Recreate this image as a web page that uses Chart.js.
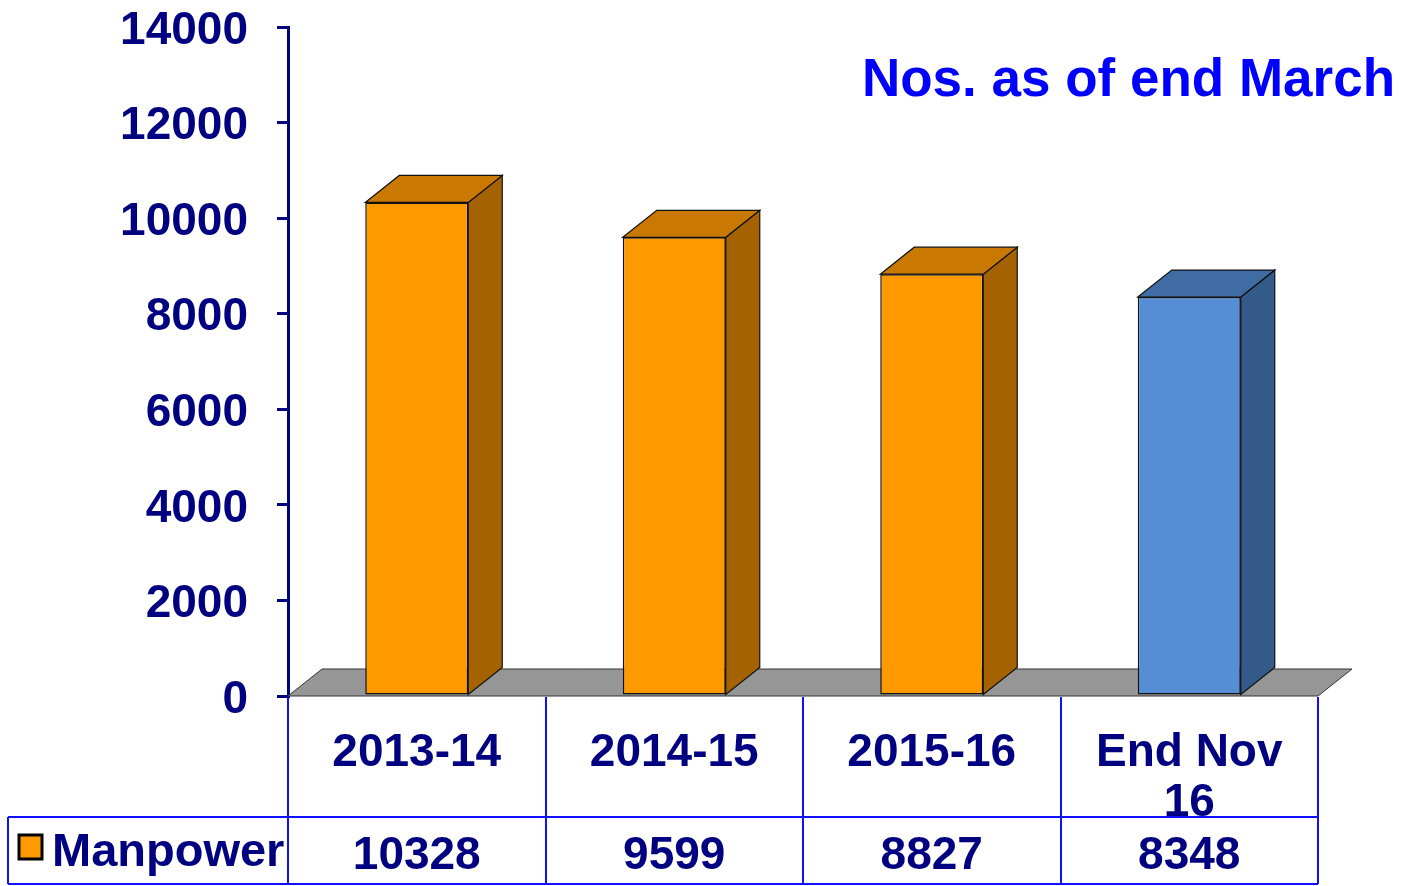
<!DOCTYPE html>
<html lang="en">
<head>
    <meta charset="UTF-8">
    <title>Manpower</title>
    <script src="https://cdn.jsdelivr.net/npm/chart.js"></script>
    <style>
        body {
            margin: 0;
            padding: 0;
            background: #fff;
        }
        #wrap {
            width: 1403px;
            height: 886px;
            position: relative;
        }
    </style>
</head>
<body>
    <div id="wrap">
        <canvas id="myChart"></canvas>
    </div>

    <script>
        // chart data
        const categories = [['2013-14'], ['2014-15'], ['2015-16'], ['End Nov', '16']];
        const manpower = [10328, 9599, 8827, 8348];
        const seriesName = 'Manpower';
        const chartTitle = 'Nos. as of end March';

        // bar faces: front / top / side
        const frontColors = ['#FF9900', '#FF9900', '#FF9900', '#558ED5'];
        const topColors = ['#C97800', '#C97800', '#C97800', '#3F6CA3'];
        const sideColors = ['#A46200', '#A46200', '#A46200', '#345A8A'];

        const NAVY = '#000080';
        const FONT = '"Liberation Sans", Arial, Helvetica, sans-serif';
        const DX = 34, DY = -27; // depth of the 3d look

        const bar3d = {
            id: 'bar3d',
            beforeDatasetsDraw(chart) {
                const c = chart.ctx;
                const a = chart.chartArea;
                // floor
                c.save();
                c.beginPath();
                c.moveTo(a.left, a.bottom);
                c.lineTo(a.right, a.bottom);
                c.lineTo(a.right + DX, a.bottom + DY);
                c.lineTo(a.left + DX, a.bottom + DY);
                c.closePath();
                c.fillStyle = '#969696';
                c.fill();
                c.strokeStyle = '#333';
                c.lineWidth = 1;
                c.stroke();

                // top and side faces
                chart.getDatasetMeta(0).data.forEach((bar, i) => {
                    const w = bar.width;
                    const l = bar.x - w / 2, r = bar.x + w / 2;
                    const t = bar.y, b = bar.base;
                    c.lineWidth = 1.2;
                    c.strokeStyle = '#111';

                    c.beginPath();
                    c.moveTo(r, t);
                    c.lineTo(r + DX, t + DY);
                    c.lineTo(r + DX, b + DY);
                    c.lineTo(r, b);
                    c.closePath();
                    c.fillStyle = sideColors[i];
                    c.fill();
                    c.stroke();

                    c.beginPath();
                    c.moveTo(l, t);
                    c.lineTo(l + DX, t + DY);
                    c.lineTo(r + DX, t + DY);
                    c.lineTo(r, t);
                    c.closePath();
                    c.fillStyle = topColors[i];
                    c.fill();
                    c.stroke();
                });
                c.restore();
            },
            afterDraw(chart) {
                const c = chart.ctx;
                const a = chart.chartArea;
                const xs = chart.scales.x;
                const half = (a.right - a.left) / categories.length / 2;
                const rowTop = 817, rowBottom = 884, legendLeft = 8;

                c.save();
                // title
                c.font = 'bold 53px ' + FONT;
                c.fillStyle = '#0000FF';
                c.textAlign = 'right';
                c.textBaseline = 'alphabetic';
                c.fillText(chartTitle, 1395, 96);

                // data table grid
                c.strokeStyle = '#1010FF';
                c.lineWidth = 2;
                c.beginPath();
                for (let i = 0; i <= categories.length; i++) {
                    const x = Math.round(a.left + i * half * 2);
                    c.moveTo(x, a.bottom + 1);
                    c.lineTo(x, rowBottom);
                }
                c.moveTo(legendLeft, rowTop);
                c.lineTo(legendLeft, rowBottom);
                c.moveTo(legendLeft, rowTop);
                c.lineTo(a.right, rowTop);
                c.moveTo(legendLeft, rowBottom);
                c.lineTo(a.right, rowBottom);
                c.stroke();

                // category labels and values
                c.font = 'bold 46px ' + FONT;
                c.fillStyle = NAVY;
                c.textAlign = 'center';
                c.textBaseline = 'middle';
                categories.forEach((lines, i) => {
                    const cx = xs.getPixelForValue(i);
                    lines.forEach((txt, j) => c.fillText(txt, cx, 753 + j * 50));
                    c.fillText(String(manpower[i]), cx, 856);
                });

                // legend key + series name
                c.fillStyle = frontColors[0];
                c.fillRect(19, 835, 23, 24);
                c.strokeStyle = '#000';
                c.lineWidth = 3;
                c.strokeRect(19, 835, 23, 24);
                c.fillStyle = NAVY;
                c.textAlign = 'left';
                c.font = 'bold 47px ' + FONT;
                c.fillText(seriesName, 52, 853);
                c.restore();
            }
        };

        const ctx = document.getElementById('myChart').getContext('2d');
        new Chart(ctx, {
            type: 'bar',
            data: {
                labels: categories,
                datasets: [{
                    label: seriesName,
                    data: manpower,
                    backgroundColor: frontColors,
                    borderColor: '#111',
                    borderWidth: 1.5,
                    borderSkipped: false,
                    barPercentage: 0.4,
                    categoryPercentage: 1.0
                }]
            },
            options: {
                responsive: true,
                maintainAspectRatio: false,
                animation: false,
                layout: {
                    padding: { top: 27, right: 85, bottom: 190, left: 0 }
                },
                plugins: {
                    legend: { display: false },
                    tooltip: { enabled: false }
                },
                scales: {
                    x: { display: false },
                    y: {
                        min: 0,
                        max: 14000,
                        afterFit(scale) {
                            scale.width = 288;
                            scale.paddingTop = 0;
                            scale.paddingBottom = 0;
                        },
                        border: { color: NAVY, width: 3 },
                        grid: {
                            drawOnChartArea: false,
                            color: NAVY,
                            lineWidth: 3,
                            tickLength: 11
                        },
                        ticks: {
                            stepSize: 2000,
                            padding: 29,
                            labelOffset: 4,
                            color: NAVY,
                            font: { family: FONT, size: 46, weight: 'bold' },
                            callback: v => String(v)
                        }
                    }
                }
            },
            plugins: [bar3d]
        });
    </script>
</body>
</html>
